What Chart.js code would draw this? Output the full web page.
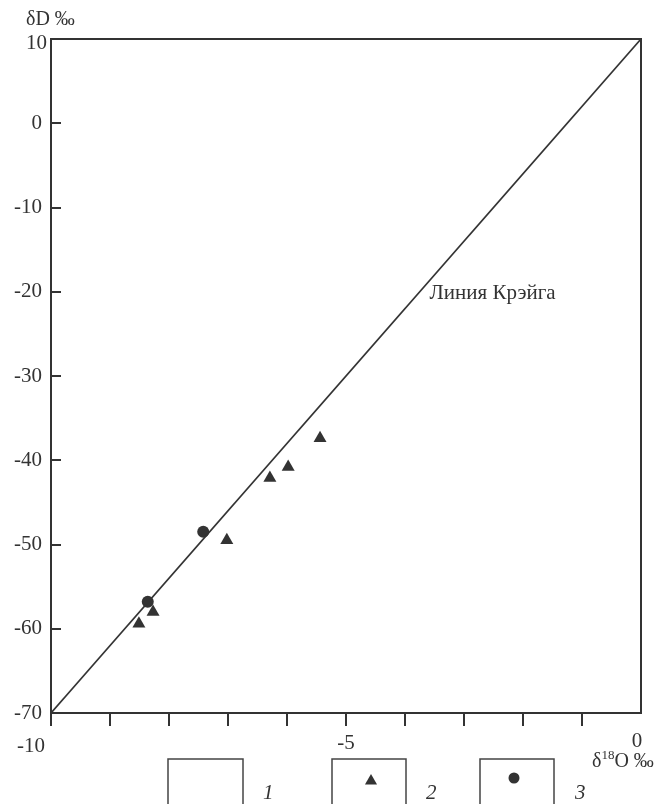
<!DOCTYPE html>
<html>
<head>
<meta charset="utf-8">
<script src="https://cdn.jsdelivr.net/npm/chart.js@4.4.1/dist/chart.umd.min.js"></script>
<style>
  html, body { margin: 0; padding: 0; background: #fff; }
  #canvas { display: block; }
</style>
</head>
<body>
<canvas id="canvas" width="660" height="804"></canvas>
<script>
// Craig meteoric water line: dD = 8 * d18O + 10
const craigX = [-10, 0]
const craigY = [-70, 10]

// series 2 (triangles)
const triX = [-5.44, -5.98, -6.29, -7.02, -8.27, -8.51]
const triY = [-37.4, -40.8, -42.1, -49.5, -58.0, -59.4]

// series 3 (circles)
const dotX = [-7.42, -8.36]
const dotY = [-48.5, -56.8]

const yTickValues = [10, 0, -10, -20, -30, -40, -50, -60, -70]
const xTickValues = [-10, -9, -8, -7, -6, -5, -4, -3, -2, -1, 0]
const xTickLabels = [-10, -5, 0]
const legendLabels = ['1', '2', '3']
const craigLabel = 'Линия Крэйга'
const craigLabelAt = { x: -3.77, y: -20.15 }

const ink = '#333'
const serif = '"Liberation Serif", "DejaVu Serif", serif'

const toPoints = (xs, ys) => xs.map((x, i) => ({ x, y: ys[i] }))

const triangle = (ctx, x, y, r) => {
    ctx.beginPath()
    ctx.moveTo(x, y - r)
    ctx.lineTo(x + r * 0.866, y + r * 0.5)
    ctx.lineTo(x - r * 0.866, y + r * 0.5)
    ctx.closePath()
    ctx.fill()
}

const framePlugin = {
    id: 'frame',
    beforeDatasetsDraw(chart) {
        const { ctx, chartArea: a, scales } = chart
        ctx.save()
        ctx.strokeStyle = ink
        ctx.lineWidth = 2
        ctx.strokeRect(a.left, a.top, a.right - a.left, a.bottom - a.top)

        // y ticks point inward
        yTickValues.forEach(v => {
            if (v === 10 || v === -70) return
            const py = Math.round(scales.y.getPixelForValue(v))
            ctx.beginPath()
            ctx.moveTo(a.left, py)
            ctx.lineTo(a.left + 10, py)
            ctx.stroke()
        })

        // x ticks point outward
        xTickValues.forEach(v => {
            if (v === 0) return
            const px = Math.round(scales.x.getPixelForValue(v))
            ctx.beginPath()
            ctx.moveTo(px, a.bottom)
            ctx.lineTo(px, a.bottom + 13)
            ctx.stroke()
        })
        ctx.restore()
    },
    afterDraw(chart) {
        const { ctx, chartArea: a, scales } = chart
        ctx.save()
        ctx.fillStyle = ink
        ctx.font = `21px ${serif}`

        // y tick labels
        ctx.textAlign = 'right'
        ctx.textBaseline = 'middle'
        yTickValues.forEach(v => {
            let py = scales.y.getPixelForValue(v)
            if (v === 10) py += 4
            ctx.fillText(String(v), v === 10 ? 47 : 42, py)
        })

        // x tick labels
        ctx.textAlign = 'center'
        xTickLabels.forEach(v => {
            let px = scales.x.getPixelForValue(v)
            let py = a.bottom + 30
            if (v === -10) { px -= 20; py += 3 }
            if (v === 0) { px -= 4; py -= 2 }
            ctx.fillText(String(v), px, py)
        })

        // axis titles
        ctx.textAlign = 'left'
        ctx.textBaseline = 'alphabetic'
        ctx.font = `20px ${serif}`
        ctx.fillText('δD ‰', 26, 25)

        let tx = 592, ty = 767
        ctx.fillText('δ', tx, ty)
        tx += ctx.measureText('δ').width
        ctx.font = `13px ${serif}`
        ctx.fillText('18', tx, ty - 8)
        tx += ctx.measureText('18').width
        ctx.font = `20px ${serif}`
        ctx.fillText('O ‰', tx, ty)

        // Craig line label
        ctx.font = `21px ${serif}`
        ctx.textBaseline = 'middle'
        ctx.fillText(craigLabel,
            scales.x.getPixelForValue(craigLabelAt.x) + 11,
            scales.y.getPixelForValue(craigLabelAt.y))

        // legend boxes
        const boxes = [
            { left: 168, right: 243, label: 263 },
            { left: 332, right: 406, label: 426 },
            { left: 480, right: 554, label: 575 }
        ]
        ctx.strokeStyle = '#444'
        ctx.lineWidth = 1.5
        boxes.forEach((b, i) => {
            ctx.strokeRect(b.left, 759, b.right - b.left, 60)
            ctx.font = `italic 21px ${serif}`
            ctx.textAlign = 'left'
            ctx.fillText(legendLabels[i], b.label, 793)
        })
        ctx.fillStyle = ink
        triangle(ctx, 371, 781, 7)
        ctx.beginPath()
        ctx.arc(514, 778, 5.5, 0, Math.PI * 2)
        ctx.fill()
        ctx.restore()
    }
}

const ctx = document.querySelector('#canvas').getContext('2d')
const myChart = new Chart(ctx, {
    type: 'scatter',
    data: {
        datasets: [{
            type: 'line',
            label: 'Craig',
            data: toPoints(craigX, craigY),
            borderColor: ink,
            borderWidth: 1.7,
            pointRadius: 0,
            fill: false
        }, {
            label: '2',
            data: toPoints(triX, triY),
            pointStyle: 'triangle',
            pointRadius: 7.5,
            backgroundColor: ink,
            borderColor: ink,
            borderWidth: 0
        }, {
            label: '3',
            data: toPoints(dotX, dotY),
            pointStyle: 'circle',
            pointRadius: 6,
            backgroundColor: ink,
            borderColor: ink,
            borderWidth: 0
        }]
    },
    options: {
        responsive: false,
        animation: false,
        layout: { padding: { top: 39, right: 19, left: 0, bottom: 0 } },
        plugins: {
            legend: { display: false },
            tooltip: { enabled: false }
        },
        scales: {
            x: {
                type: 'linear',
                min: -10,
                max: 0,
                grid: { display: false },
                border: { display: false },
                ticks: { display: false, stepSize: 1 },
                afterFit: scale => { scale.height = 91 }
            },
            y: {
                type: 'linear',
                min: -70,
                max: 10,
                grid: { display: false },
                border: { display: false },
                ticks: { display: false, stepSize: 10 },
                afterFit: scale => { scale.width = 51 }
            }
        }
    },
    plugins: [framePlugin]
})
</script>
</body>
</html>
